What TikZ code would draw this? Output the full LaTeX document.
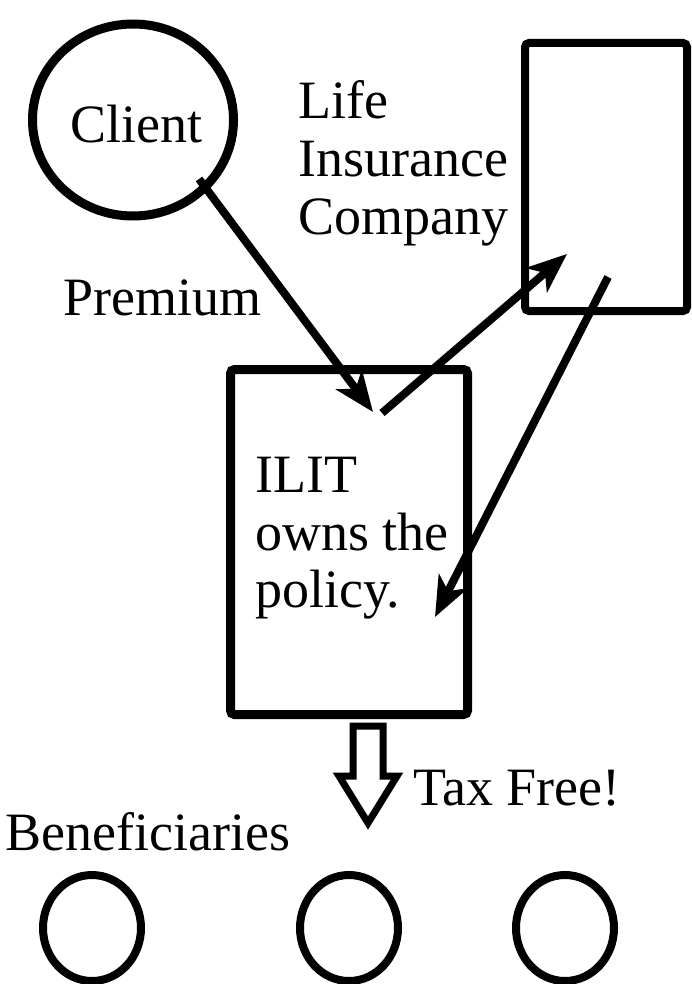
\documentclass[tikz,border=0pt]{standalone}
\usepackage{fontspec}
\setmainfont{Liberation Serif}
\usetikzlibrary{arrows.meta,shapes.geometric}
\begin{document}
\begin{tikzpicture}[x=1pt,y=-1pt,
  lbl/.style={anchor=base west, inner sep=0pt, font=\fontsize{54}{60}\selectfont},
  boxshape/.style={draw, line width=9pt, rounded corners=4pt, inner sep=0pt},
  ringshape/.style={draw, ellipse, line width=8pt, inner sep=0pt},
  flow/.style={line width=8pt, -{Stealth[length=40pt,width=32pt,inset=11pt]}},
]
\useasboundingbox (0,0) rectangle (691,984);
\fill[white] (0,0) rectangle (691,984);

% shapes
\node[ringshape, line width=9pt, minimum width=201pt, minimum height=192pt] (client) at (133,120) {};
\node[boxshape, line width=8pt, minimum width=162pt, minimum height=268pt] (life) at (606,177) {};
\node[boxshape, minimum width=237pt, minimum height=345pt] (ilit) at (349,542) {};
\node[ringshape, minimum width=98pt, minimum height=106pt] (b1) at (92,928) {};
\node[ringshape, minimum width=98pt, minimum height=106pt] (b2) at (349,928) {};
\node[ringshape, minimum width=98pt, minimum height=106pt] (b3) at (565,928) {};

% texts
\node[lbl] (tclient) at (70,143) {Client};
\node[lbl] (tlife1) at (298,119) {Life};
\node[lbl] (tlife2) at (298,177) {Insurance};
\node[lbl] (tlife3) at (298,235) {Company};
\node[lbl] (tprem) at (63,315) {Premium};
\node[lbl] (tilit1) at (255,492) {ILIT};
\node[lbl] (tilit2) at (255,550) {owns the};
\node[lbl] (tilit3) at (255,607) {policy.};
\node[lbl] (ttax) at (413,805) {Tax Free!};
\node[lbl] (tben) at (5,850) {Beneficiaries};

% connectors
\coordinate (c1) at (199,179);
\coordinate (i1) at (373,412);
\coordinate (i2) at (382,413);
\coordinate (l1) at (567,254);
\coordinate (l2) at (608,277);
\coordinate (i3) at (435,617);
\draw[flow] (c1) -- (i1);
\draw[flow] (i2) -- (l1);
\draw[flow] (l2) -- (i3);

% hollow arrow
\draw[line width=7pt, line join=miter]
  (353,726) -- (383,726) -- (383,776) -- (397,776) -- (368,823)
  -- (339,776) -- (353,776) -- cycle;
\end{tikzpicture}
\end{document}
